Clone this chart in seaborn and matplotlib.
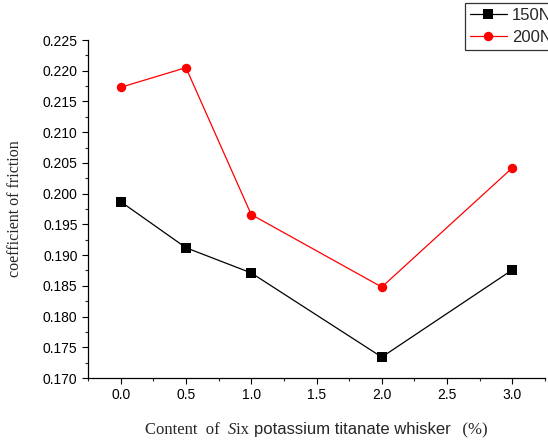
# friction coefficient vs whisker content, two loads
import numpy as np
import pandas as pd
import matplotlib
matplotlib.use("Agg")
import matplotlib.pyplot as plt
from matplotlib.ticker import MultipleLocator, FormatStrFormatter
from matplotlib.offsetbox import TextArea, HPacker, AnchoredOffsetbox
import seaborn as sns

content = [0.0, 0.5, 1.0, 2.0, 3.0]
mu_150 = [0.1987, 0.1912, 0.1871, 0.1734, 0.1876]
mu_200 = [0.2173, 0.2205, 0.1966, 0.1848, 0.2042]
loads = ["150N", "200N"]

df = pd.DataFrame({
    "content": content * 2,
    "mu": mu_150 + mu_200,
    "load": [loads[0]] * len(content) + [loads[1]] * len(content),
})

sns.set_style("ticks")
plt.rcParams["font.family"] = ["Liberation Sans", "DejaVu Sans"]
plt.rcParams["xtick.major.size"] = 4
plt.rcParams["ytick.major.size"] = 4
plt.rcParams["xtick.minor.size"] = 2.5
plt.rcParams["ytick.minor.size"] = 2.5

fig = plt.figure(figsize=(5.48, 4.41), dpi=100)
ax = fig.add_axes([88 / 548, 1 - 378 / 441, 457 / 548, 338 / 441])

sns.lineplot(data=df, x="content", y="mu", hue="load", style="load",
             palette={"150N": "black", "200N": "red"},
             markers={"150N": "s", "200N": "o"}, dashes=False,
             markersize=6.8, markeredgewidth=0, linewidth=0.9, ax=ax)

ax.set_xlim(-0.25, 3.25)
ax.set_ylim(0.170, 0.225)
ax.xaxis.set_major_locator(MultipleLocator(0.5))
ax.xaxis.set_minor_locator(MultipleLocator(0.25))
ax.yaxis.set_major_locator(MultipleLocator(0.005))
ax.yaxis.set_minor_locator(MultipleLocator(0.0025))
ax.xaxis.set_major_formatter(FormatStrFormatter("%.1f"))
ax.yaxis.set_major_formatter(FormatStrFormatter("%.3f"))
ax.tick_params(labelsize=10, colors="black", width=0.8)
ax.tick_params(which="minor", width=0.8)
for s in ["left", "bottom"]:
    ax.spines[s].set_color("black")
    ax.spines[s].set_linewidth(0.9)
sns.despine(ax=ax)

ax.set_xlabel("")
ax.set_ylabel("coefficient of friction", family="Liberation Serif",
              fontsize=11.5, labelpad=14)

# x label uses mixed fonts like the original
serif = dict(family="Liberation Serif", size=12)
sans = dict(family="Liberation Sans", size=12)
parts = [
    TextArea("Content  of  ", textprops=serif),
    TextArea("S", textprops=dict(serif, style="italic")),
    TextArea("ix ", textprops=serif),
    TextArea("potassium titanate whisker", textprops=sans),
    TextArea("   (%)", textprops=serif),
]
box = HPacker(children=parts, align="baseline", pad=0, sep=0)
anch = AnchoredOffsetbox(loc="center", child=box, frameon=False,
                         bbox_to_anchor=(0.5, -0.155),
                         bbox_transform=ax.transAxes, borderpad=0)
ax.add_artist(anch)

# legend sits partly off the right edge, as in the source figure
handles, labels = ax.get_legend_handles_labels()
leg = fig.legend(handles, labels, loc="upper left",
                 bbox_to_anchor=(465 / 548, 1 - 3 / 441),
                 frameon=True, fancybox=False, fontsize=12,
                 handlelength=2.2, handletextpad=0.3, borderpad=0.3,
                 labelspacing=0.4, borderaxespad=0)
leg.get_frame().set_edgecolor("black")
leg.get_frame().set_linewidth(0.9)
if ax.get_legend():
    ax.get_legend().remove()

fig.savefig("out.png", dpi=100)
